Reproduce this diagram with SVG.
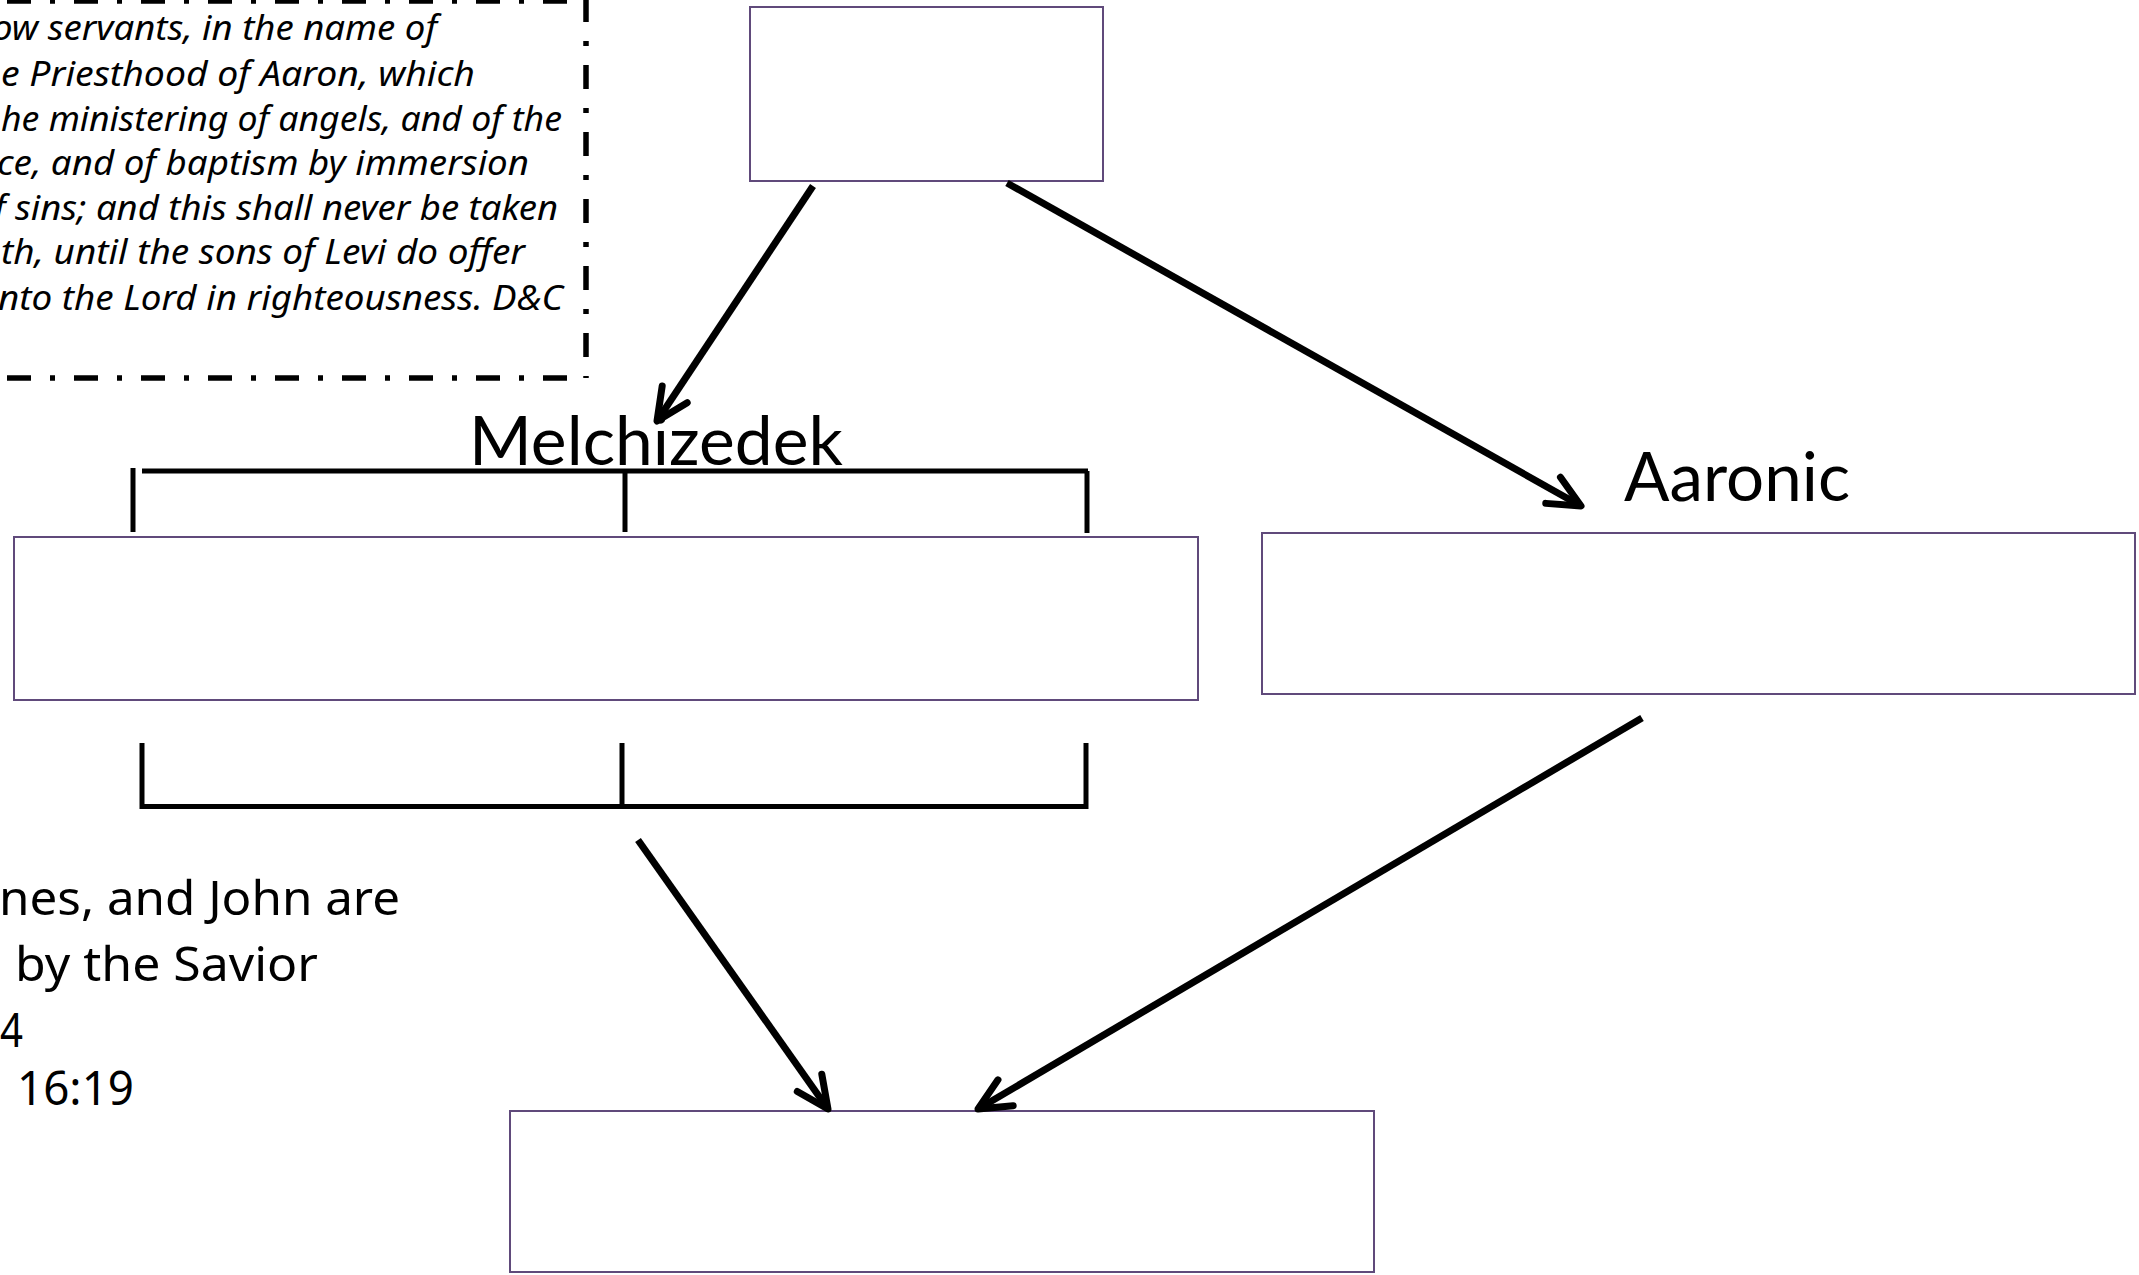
<svg xmlns="http://www.w3.org/2000/svg" width="2139" height="1275" viewBox="0 0 2139 1275">
<style>
.box{fill:#fff;stroke:#604A7B;stroke-width:2}
.br{stroke:#000;stroke-width:5;fill:none}
.conn{stroke:#000;stroke-width:7;fill:none;marker-end:url(#ah)}
.dd{stroke:#000;stroke-width:5.5;fill:none;stroke-dasharray:24 19 5 19}
.q{font-family:"Noto Sans","DejaVu Sans",sans-serif;font-style:italic;font-size:35px;fill:#000}
.b{font-family:"Noto Sans","DejaVu Sans",sans-serif;font-size:48px;fill:#000}
.lbl{font-family:Lato,"Open Sans",sans-serif;font-size:68px;fill:#000}
</style>
<defs>
<marker id="ah" markerUnits="userSpaceOnUse" viewBox="-50 -40 100 80" markerWidth="100" markerHeight="80" refX="0" refY="0" orient="auto" overflow="visible">
<path d="M-32,-15 L0,0 L-32,15" fill="none" stroke="#000" stroke-width="7" stroke-linecap="round" stroke-linejoin="round"/>
</marker>
</defs>
<rect width="2139" height="1275" fill="#fff"/>
<g id="quote">
<line class="dd" x1="586" y1="1" x2="-10" y2="1" style="stroke-dashoffset:48"/>
<line class="dd" x1="586" y1="-2" x2="586" y2="378"/>
<line class="dd" x1="586" y1="378" x2="-10" y2="378" style="stroke-dashoffset:48"/>
<text class="q" x="-8" y="40" textLength="445" lengthAdjust="spacingAndGlyphs">ow servants, in the name of</text>
<text class="q" x="1" y="86" textLength="474" lengthAdjust="spacingAndGlyphs">e Priesthood of Aaron, which</text>
<text class="q" x="1" y="131" textLength="561" lengthAdjust="spacingAndGlyphs">he ministering of angels, and of the</text>
<text class="q" x="-3" y="175" textLength="532" lengthAdjust="spacingAndGlyphs">ce, and of baptism by immersion</text>
<text class="q" x="-6" y="220" textLength="564" lengthAdjust="spacingAndGlyphs">f sins; and this shall never be taken</text>
<text class="q" x="1" y="264" textLength="524" lengthAdjust="spacingAndGlyphs">th, until the sons of Levi do offer</text>
<text class="q" x="-2" y="310" textLength="565" lengthAdjust="spacingAndGlyphs">nto the Lord in righteousness. D&amp;C</text>
</g>
<g id="bottom-left-text">
<text class="b" x="-1" y="915" textLength="401" lengthAdjust="spacingAndGlyphs">nes, and John are</text>
<text class="b" x="15" y="981" textLength="303" lengthAdjust="spacingAndGlyphs">by the Savior</text>
<text class="b" x="0" y="1047" textLength="23" lengthAdjust="spacingAndGlyphs">4</text>
<text class="b" x="17" y="1105" textLength="117" lengthAdjust="spacingAndGlyphs">16:19</text>
</g>
<g id="top-box"><rect class="box" x="750" y="7" width="353" height="174"/></g>
<g id="melchizedek">
<text class="lbl" x="469" y="465" textLength="374" lengthAdjust="spacingAndGlyphs">Melchizedek</text>
<rect class="box" x="14" y="537" width="1184" height="163"/>
</g>
<g id="aaronic">
<text class="lbl" x="1624" y="501" textLength="226" lengthAdjust="spacingAndGlyphs">Aaronic</text>
<rect class="box" x="1262" y="533" width="873" height="161"/>
</g>
<g id="bottom-box"><rect class="box" x="510" y="1111" width="864" height="161"/></g>
<g id="brackets">
<line class="br" x1="142" y1="471" x2="1088" y2="471"/>
<line class="br" x1="133" y1="468" x2="133" y2="532"/>
<line class="br" x1="625" y1="471" x2="625" y2="532"/>
<line class="br" x1="1087" y1="471" x2="1087" y2="533"/>
<line class="br" x1="140" y1="806.5" x2="1088" y2="806.5"/>
<line class="br" x1="142" y1="743" x2="142" y2="809"/>
<line class="br" x1="622" y1="743" x2="622" y2="806"/>
<line class="br" x1="1086" y1="743" x2="1086" y2="809"/>
</g>
<g id="connectors">
<line class="conn" x1="813" y1="186" x2="657" y2="421"/>
<line class="conn" x1="1007" y1="183" x2="1581" y2="506"/>
<line class="conn" x1="638" y1="840" x2="828" y2="1109"/>
<line class="conn" x1="1642" y1="718" x2="978" y2="1109"/>
</g>
</svg>
